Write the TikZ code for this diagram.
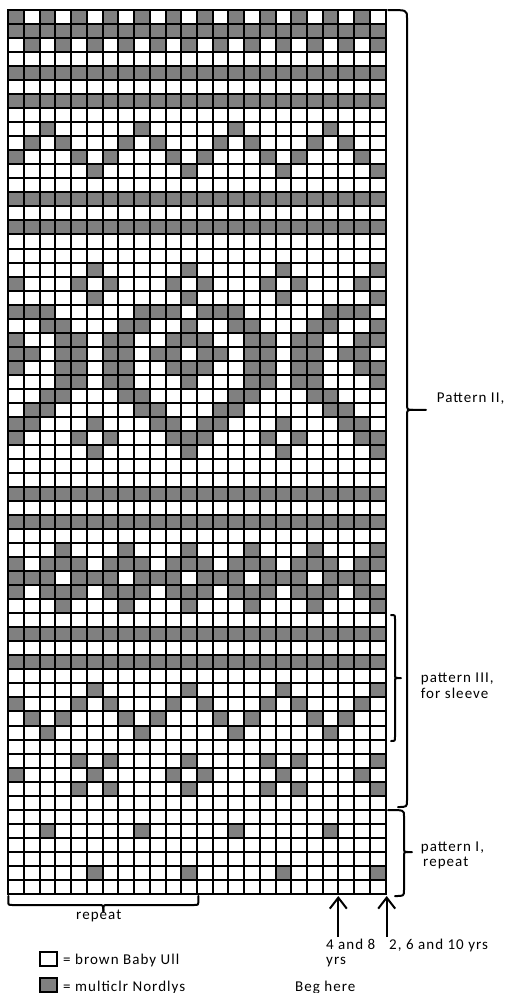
\documentclass[tikz,border=0pt]{standalone}
\usepackage{fontspec}
\setmainfont{Carlito}[LetterSpace=7]
\usetikzlibrary{arrows.meta}
\definecolor{cellgray}{RGB}{128,128,128}
\begin{document}
\begin{tikzpicture}[x=1pt,y=-1pt,
  gridline/.style={line width=2pt, black},
  bracestyle/.style={line width=2pt, black, line cap=round, line join=round},
  lbl/.style={inner sep=0pt, anchor=base west, font=\fontsize{15}{15}\selectfont},
  lbltwo/.style={inner sep=0pt, anchor=west, align=left, font=\fontsize{15}{14.5}\selectfont},
  uparrow/.style={line width=2pt, -{Straight Barb[length=11pt,width=17pt]}},
  legendbox/.style={draw, line width=2pt, minimum width=16.7pt, minimum height=13.7pt, inner sep=0pt},
  ]
\useasboundingbox (0,0) rectangle (511,993);

% ---------- chart (cell edges snapped to whole pixels) ----------
\def\gx#1{round(8.3+15.72*(#1))}
\def\gy#1{round(10+14.03*(#1))}
\foreach \r/\cols in {
  1/{1,3,5,7,9,11}, 2/{1,...,12}, 3/{2,4,6,8,10,12}, 5/{1,...,12}, 7/{1,...,12},
  9/{3,9}, 10/{2,4,8,10}, 11/{1,5,7,11}, 12/{6,12},
  14/{1,...,12}, 16/{1,...,12},
  19/{6,12}, 20/{1,5,7,11}, 21/{6,12},
  22/{1,2,3,9,10,11}, 23/{3,4,8,9,12}, 24/{1,4,5,7,8,11,12},
  25/{1,2,4,5,7,8,10,11}, 26/{1,4,5,7,8,11,12}, 27/{4,5,7,8,12},
  28/{3,4,8,9}, 29/{2,3,9,10}, 30/{1,2,6,10,11}, 31/{1,5,7,11,12}, 32/{6,12},
  35/{1,...,12}, 37/{1,...,12},
  39/{4,8,12}, 40/{1,3,4,5,7,8,9,11,12}, 41/{1,2,3,5,6,7,9,10,11},
  42/{1,3,4,5,7,8,9,11,12}, 43/{4,8,12},
  45/{1,...,12}, 47/{1,...,12},
  49/{6,12}, 50/{1,5,7,11}, 51/{2,4,8,10}, 52/{3,9},
  54/{5,7,12}, 55/{1,6,11}, 56/{5,7,12},
  59/{3,9}, 62/{6,12}}{
  \pgfmathsetmacro\ya{\gy{\r-1}}
  \pgfmathsetmacro\yb{\gy{\r}}
  \foreach \c in \cols {
    \pgfmathsetmacro\xa{\gx{\c-1}}
    \pgfmathsetmacro\xb{\gx{\c}}
    \pgfmathsetmacro\xc{\gx{\c+11}}
    \pgfmathsetmacro\xd{\gx{\c+12}}
    \fill[cellgray] (\xa,\ya) rectangle (\xb,\yb);
    \fill[cellgray] (\xc,\ya) rectangle (\xd,\yb);
  }
}
\foreach \i in {0,...,24} {
  \pgfmathsetmacro\xx{\gx{\i}}
  \draw[gridline] (\xx,10) -- (\xx,894);
}
\foreach \j in {0,...,63} {
  \pgfmathsetmacro\yy{\gy{\j}}
  \draw[gridline] (8,\yy) -- (386,\yy);
}
\draw[gridline] (8,10) rectangle (386,894);

% ---------- braces ----------
% Pattern II
\draw[bracestyle] (388,10) .. controls (407,10) .. (407,18) -- (407,403)
  .. controls (407,409.9) .. (413,409.9) -- (426,409.9);
\draw[bracestyle] (413,409.9) .. controls (407,409.9) .. (407,416) -- (407,800)
  .. controls (407,807) .. (398,807);
% Pattern III
\draw[bracestyle] (391,615) .. controls (395,615) .. (395,619) -- (395,674)
  .. controls (395,678) .. (398,678) -- (401,678);
\draw[bracestyle] (398,678) .. controls (395,678) .. (395,682) -- (395,737)
  .. controls (395,741) .. (391,741);
% Pattern I
\draw[bracestyle] (388,810) .. controls (404,810) .. (404,816) -- (404,847)
  .. controls (404,852) .. (408,852) -- (412,852);
\draw[bracestyle] (408,852) .. controls (404,852) .. (404,857) -- (404,890)
  .. controls (404,896) .. (395,896);
% repeat (bottom)
\draw[bracestyle] (8.3,896) -- (8.3,901) .. controls (8.3,905) .. (12.5,905) -- (99,905)
  .. controls (103.3,905) .. (103.3,911.5);
\draw[bracestyle] (103.3,911.5) .. controls (103.3,905) .. (107.6,905) -- (194,905)
  .. controls (198.3,905) .. (198.3,901) -- (198.3,896);

% ---------- labels ----------
\node[lbl] (p2) at (436.7,402) {Pattern II,};
\node[lbl] (p3a) at (420.7,682) {pattern III,};
\node[lbl] (p3b) at (420.7,698) {for sleeve};
\node[lbl] (p1a) at (420.7,851.5) {pattern I,};
\node[lbl] (p1b) at (423,866) {repeat};
\node[lbl] (rep) at (76,919.3) {repeat};
\node[lbltwo] (s48) at (326,953) {4 and 8\\yrs};
\node[lbl] (s2610) at (389,949.5) {2, 6 and 10 yrs};
\node[lbl] (beg) at (295,991) {Beg here};

% ---------- arrows ----------
\coordinate (a1tail) at (338.3,937);
\coordinate (a1tip) at (338.3,896);
\coordinate (a2tail) at (386.7,937);
\coordinate (a2tip) at (386.7,896);
\draw[uparrow] (a1tail) -- (a1tip);
\draw[uparrow] (a2tail) -- (a2tip);

% ---------- legend ----------
\node[legendbox, fill=white] (legw) at (48.35,958.85) {};
\node[legendbox, fill=cellgray] (legg) at (48.35,985.3) {};
\node[lbl] (legwt) at (63,964) {= brown Baby Ull};
\node[lbl] (leggt) at (63,991) {= multiclr Nordlys};
\end{tikzpicture}
\end{document}
